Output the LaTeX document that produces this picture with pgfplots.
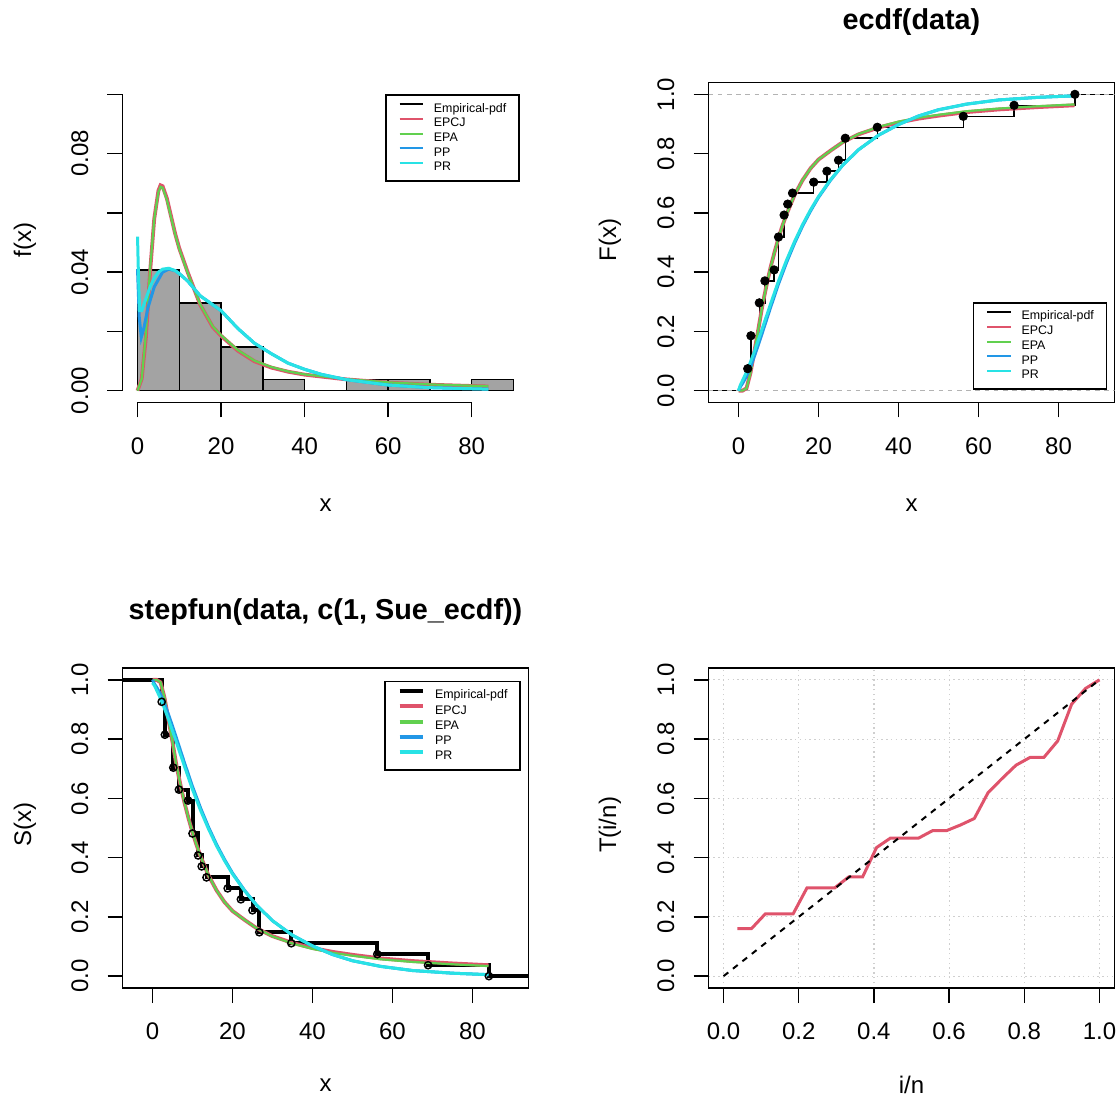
\documentclass[border=0pt]{standalone}
\usepackage{fontspec}
\setmainfont{Liberation Sans}
\usepackage{pgfplots}
\pgfplotsset{compat=1.18}

\definecolor{rred}{HTML}{DF536B}
\definecolor{rgreen}{HTML}{61D04F}
\definecolor{rblue}{HTML}{2297E6}
\definecolor{rcyan}{HTML}{28E2E5}
\definecolor{histgray}{HTML}{A3A3A3}
\definecolor{gray70}{HTML}{B3B3B3}
\definecolor{lgray}{HTML}{CFCFCF}

\pgfplotsset{
  rpanel/.style={
    scale only axis, width=203pt, height=160pt, anchor=south west,
    tick align=outside, major tick length=7.5pt,
    xtick pos=left, ytick pos=left,
    every tick/.style={black, line width=0.75pt},
    axis line style={line width=0.75pt},
    tick label style={font=\fontsize{12}{14}\selectfont},
    xticklabel shift=6.5pt, yticklabel shift=6pt,
    /pgf/number format/assume math mode=true,
    yticklabel style={rotate=90, anchor=south},
    legend cell align=left,
    legend image code/.code={\draw[##1] (0pt,2.2pt) -- (11.7pt,2.2pt);},
    legend style={font=\fontsize{6.2}{7}\selectfont, draw=black, line width=0.75pt,
      nodes={inner sep=0pt, text height=4.6pt, text depth=1.3pt},
      row sep=1.45pt, column sep=5pt, inner xsep=6.3pt, inner ysep=3.8pt},
  },
}

\begin{document}
\begin{tikzpicture}
\useasboundingbox (0,0) rectangle (560pt,549.5pt);

% density panel
\begin{axis}[rpanel, at={(61.25pt,348.25pt)},
  xmin=-3.6, xmax=93.6, ymin=-0.004, ymax=0.104,
  axis lines*=left, axis line style={draw=none}, clip=false,
  xtick={0,20,40,60,80}, xticklabels={0,20,40,60,80},
  ytick={0,0.02,0.04,0.06,0.08,0.1}, yticklabels={0.00,,0.04,,0.08,},
  legend style={at={(0.647,0.9625)}, anchor=north west}]
\addlegendimage{black, line width=1pt}\addlegendentry{Empirical-pdf}
\addlegendimage{rred, line width=1pt}\addlegendentry{EPCJ}
\addlegendimage{rgreen, line width=1pt}\addlegendentry{EPA}
\addlegendimage{rblue, line width=1pt}\addlegendentry{PP}
\addlegendimage{rcyan, line width=1pt}\addlegendentry{PR}
\addplot[ybar interval, fill=histgray, draw=black, line width=0.75pt, forget plot] coordinates {
  (0,0.04074) (10,0.02963) (20,0.01481) (30,0.0037) (40,0) (50,0.0037) (60,0.0037) (70,0) (80,0.0037) (90,0)};
\addplot[rred, line width=1.9pt, forget plot] coordinates {
  (0,0) (1,0.004) (2,0.018) (3,0.04) (4,0.058) (5,0.0675) (5.5,0.0693) (6,0.069) (7,0.065) (8,0.059)
  (9,0.053) (10,0.048) (12,0.04) (15,0.029) (18,0.0215) (20,0.0185) (24,0.0135) (28,0.0099)
  (32,0.0078) (36,0.0064) (40,0.0054) (50,0.0038) (60,0.0027) (70,0.002) (84,0.0014)};
\addplot[rgreen, line width=1.1pt, forget plot] coordinates {
  (0,0) (1,0.004) (2,0.019) (3,0.041) (4,0.058) (5,0.067) (5.5,0.0688) (6,0.0685) (7,0.0645) (8,0.0587)
  (9,0.0528) (10,0.0478) (12,0.0398) (15,0.0291) (18,0.0217) (20,0.0187) (24,0.0137) (28,0.0101)
  (32,0.008) (36,0.0065) (40,0.0055) (50,0.0039) (60,0.0028) (70,0.0021) (84,0.0015)};
\addplot[rblue, line width=1.5pt, forget plot] coordinates {
  (0,0.041) (0.4,0.025) (0.9,0.018) (1.5,0.021) (2.5,0.028) (4,0.035) (6,0.04) (7.5,0.041) (9,0.0405)
  (10,0.0395) (12,0.037) (15,0.032) (20,0.027) (24,0.021) (28,0.016) (32,0.0125) (36,0.0093)
  (40,0.0072) (44,0.0055) (50,0.0037) (60,0.0019) (70,0.001) (84,0.0005)};
\addplot[rcyan, line width=1.5pt, forget plot] coordinates {
  (0,0.052) (0.2,0.04) (0.5,0.027) (1,0.027) (2,0.031) (3,0.035) (4,0.038) (5,0.04) (6,0.041)
  (7.5,0.0413) (9,0.0405) (10,0.0395) (12,0.037) (15,0.032) (20,0.027) (24,0.021) (28,0.016)
  (32,0.0125) (36,0.0093) (40,0.0072) (44,0.0055) (50,0.0037) (60,0.0019) (70,0.001) (84,0.0005)};
\draw[line width=0.75pt] (axis cs:0,-0.004) -- (axis cs:80,-0.004);
\draw[line width=0.75pt] (axis cs:-3.6,0) -- (axis cs:-3.6,0.1);
\end{axis}

% ecdf panel
\begin{axis}[rpanel, at={(354.25pt,348.25pt)},
  xmin=-7.5, xmax=94, ymin=-0.04, ymax=1.04,
  xtick={0,20,40,60,80}, xticklabels={0,20,40,60,80},
  ytick={0,0.2,0.4,0.6,0.8,1}, yticklabels={0.0,0.2,0.4,0.6,0.8,1.0},
  legend style={at={(0.651,0.04)}, anchor=south west}]
\addlegendimage{black, line width=1pt}\addlegendentry{Empirical-pdf}
\addlegendimage{rred, line width=1pt}\addlegendentry{EPCJ}
\addlegendimage{rgreen, line width=1pt}\addlegendentry{EPA}
\addlegendimage{rblue, line width=1pt}\addlegendentry{PP}
\addlegendimage{rcyan, line width=1pt}\addlegendentry{PR}
\addplot[const plot, black, line width=0.75pt, forget plot] coordinates {
  (-7.5,0) (2.3,0.0741) (3.1,0.1852) (5.2,0.2963) (6.6,0.3704) (8.9,0.4074) (10.0,0.5185)
  (11.4,0.5926) (12.3,0.6296) (13.5,0.6667) (18.8,0.7037) (22.1,0.7407) (25.0,0.7778)
  (26.7,0.8519) (34.7,0.8889) (56.2,0.9259) (68.9,0.9630) (84.1,1) (94,1)};
\addplot[only marks, mark=*, mark size=2.1pt, black, forget plot] coordinates {
  (2.3,0.0741) (3.1,0.1852) (5.2,0.2963) (6.6,0.3704) (8.9,0.4074) (10.0,0.5185)
  (11.4,0.5926) (12.3,0.6296) (13.5,0.6667) (18.8,0.7037) (22.1,0.7407) (25.0,0.7778)
  (26.7,0.8519) (34.7,0.8889) (56.2,0.9259) (68.9,0.9630) (84.1,1)};
\addplot[gray70, line width=0.75pt, dash pattern=on 2.3pt off 2.3pt, forget plot] coordinates {(-7.5,0) (94,0)};
\addplot[gray70, line width=0.75pt, dash pattern=on 2.3pt off 2.3pt, forget plot] coordinates {(-7.5,1) (94,1)};
\addplot[rred, line width=1.9pt, forget plot] coordinates {
  (0,0) (1,0) (2,0.008) (3,0.06) (4,0.135) (5,0.21) (6,0.29) (7,0.355) (8,0.415) (9,0.467)
  (10,0.515) (11,0.557) (12,0.595) (14,0.66) (16,0.71) (18,0.75) (20,0.78) (23,0.81) (26,0.838)
  (30,0.865) (35,0.888) (40,0.905) (45,0.918) (50,0.928) (57,0.94) (65,0.949) (75,0.957) (84,0.963)};
\addplot[rgreen, line width=1.1pt, forget plot] coordinates {
  (0,0) (1,0) (2,0.008) (3,0.06) (4,0.135) (5,0.21) (6,0.29) (7,0.355) (8,0.415) (9,0.467)
  (10,0.515) (11,0.557) (12,0.595) (14,0.66) (16,0.71) (18,0.75) (20,0.78) (23,0.81) (26,0.838)
  (30,0.866) (35,0.89) (40,0.908) (45,0.921) (50,0.931) (57,0.943) (65,0.952) (75,0.96) (84,0.966)};
\addplot[rblue, line width=1.5pt, forget plot] coordinates {
  (0,0) (0.5,0.014) (1,0.024) (2,0.048) (3,0.08) (4,0.117) (5,0.156) (6,0.197) (8,0.28) (10,0.36)
  (12,0.432) (14,0.497) (16,0.555) (18,0.606) (20,0.652) (23,0.71) (26,0.76) (30,0.813) (35,0.862)
  (40,0.898) (45,0.927) (50,0.948) (57,0.967) (65,0.981) (75,0.99) (84,0.995)};
\addplot[rcyan, line width=1.5pt, forget plot] coordinates {
  (0,0) (0.5,0.02) (1,0.034) (2,0.063) (3,0.097) (4,0.133) (5,0.172) (6,0.212) (8,0.292) (10,0.37)
  (12,0.44) (14,0.503) (16,0.56) (18,0.61) (20,0.655) (23,0.712) (26,0.76) (30,0.813) (35,0.862)
  (40,0.898) (45,0.927) (50,0.948) (57,0.967) (65,0.981) (75,0.99) (84,0.995)};
\end{axis}

% survival panel
\begin{axis}[rpanel, at={(61.25pt,55.5pt)},
  xmin=-7.5, xmax=94, ymin=-0.04, ymax=1.04,
  xtick={0,20,40,60,80}, xticklabels={0,20,40,60,80},
  ytick={0,0.2,0.4,0.6,0.8,1}, yticklabels={0.0,0.2,0.4,0.6,0.8,1.0},
  legend style={at={(0.645,0.96)}, anchor=north west}]
\addlegendimage{black, line width=2pt}\addlegendentry{Empirical-pdf}
\addlegendimage{rred, line width=2pt}\addlegendentry{EPCJ}
\addlegendimage{rgreen, line width=2pt}\addlegendentry{EPA}
\addlegendimage{rblue, line width=2pt}\addlegendentry{PP}
\addlegendimage{rcyan, line width=2pt}\addlegendentry{PR}
\addplot[const plot, black, line width=2pt, forget plot] coordinates {
  (-7.5,1) (2.3,0.9259) (3.1,0.8148) (5.2,0.7037) (6.6,0.6296) (8.9,0.5926) (10.0,0.4815)
  (11.4,0.4074) (12.3,0.3704) (13.5,0.3333) (18.8,0.2963) (22.1,0.2593) (25.0,0.2222)
  (26.7,0.1481) (34.7,0.1111) (56.2,0.0741) (68.9,0.0370) (84.1,0) (94,0)};
\addplot[only marks, mark=o, mark size=1.8pt, line width=0.75pt, black, forget plot] coordinates {
  (2.3,0.9259) (3.1,0.8148) (5.2,0.7037) (6.6,0.6296) (8.9,0.5926) (10.0,0.4815)
  (11.4,0.4074) (12.3,0.3704) (13.5,0.3333) (18.8,0.2963) (22.1,0.2593) (25.0,0.2222)
  (26.7,0.1481) (34.7,0.1111) (56.2,0.0741) (68.9,0.0370) (84.1,0)};
\addplot[rred, line width=1.9pt, forget plot] coordinates {
  (0,1) (1,1) (2,0.992) (3,0.94) (4,0.865) (5,0.79) (6,0.71) (7,0.645) (8,0.585) (9,0.533)
  (10,0.485) (11,0.443) (12,0.405) (14,0.34) (16,0.29) (18,0.25) (20,0.22) (23,0.19) (26,0.162)
  (30,0.135) (35,0.112) (40,0.095) (45,0.082) (50,0.072) (57,0.06) (65,0.051) (75,0.043) (84,0.037)};
\addplot[rgreen, line width=1.1pt, forget plot] coordinates {
  (0,1) (1,1) (2,0.992) (3,0.94) (4,0.865) (5,0.79) (6,0.71) (7,0.645) (8,0.585) (9,0.533)
  (10,0.485) (11,0.443) (12,0.405) (14,0.34) (16,0.29) (18,0.25) (20,0.22) (23,0.19) (26,0.162)
  (30,0.134) (35,0.11) (40,0.092) (45,0.079) (50,0.069) (57,0.057) (65,0.048) (75,0.04) (84,0.034)};
\addplot[rblue, line width=1.5pt, forget plot] coordinates {
  (0,1) (0.5,0.986) (1,0.976) (2,0.952) (3,0.92) (4,0.883) (5,0.844) (6,0.803) (8,0.72) (10,0.64)
  (12,0.568) (14,0.503) (16,0.445) (18,0.394) (20,0.348) (23,0.29) (26,0.24) (30,0.187) (35,0.138)
  (40,0.102) (45,0.073) (50,0.052) (57,0.033) (65,0.019) (75,0.01) (84,0.005)};
\addplot[rcyan, line width=1.5pt, forget plot] coordinates {
  (0,0.99) (0.5,0.98) (1,0.966) (2,0.937) (3,0.903) (4,0.867) (5,0.828) (6,0.788) (8,0.708) (10,0.63)
  (12,0.56) (14,0.497) (16,0.44) (18,0.39) (20,0.345) (23,0.288) (26,0.24) (30,0.187) (35,0.138)
  (40,0.102) (45,0.073) (50,0.052) (57,0.033) (65,0.019) (75,0.01) (84,0.005)};
\end{axis}

% T(i/n) panel
\begin{axis}[rpanel, at={(354.25pt,55.5pt)},
  xmin=-0.04, xmax=1.04, ymin=-0.04, ymax=1.04,
  xtick={0,0.2,0.4,0.6,0.8,1}, xticklabels={0.0,0.2,0.4,0.6,0.8,1.0},
  ytick={0,0.2,0.4,0.6,0.8,1}, yticklabels={0.0,0.2,0.4,0.6,0.8,1.0},
  grid=major, grid style={lgray, line width=0.6pt, dash pattern=on 0.7pt off 1.7pt}]
\addplot[rred, line width=1.5pt] coordinates {
  (0.037,0.16) (0.074,0.16) (0.111,0.21) (0.148,0.21) (0.185,0.21) (0.222,0.298) (0.259,0.298)
  (0.296,0.298) (0.333,0.335) (0.370,0.335) (0.407,0.434) (0.444,0.466) (0.481,0.466) (0.519,0.466)
  (0.556,0.491) (0.593,0.491) (0.630,0.51) (0.667,0.532) (0.704,0.62) (0.741,0.667) (0.778,0.712)
  (0.815,0.738) (0.852,0.738) (0.889,0.794) (0.926,0.918) (0.963,0.971) (1,1)};
\addplot[black, line width=1pt, dash pattern=on 3pt off 3pt] coordinates {(0,0) (1,1)};
\end{axis}

% titles and axis labels
\node[font=\bfseries\fontsize{14.4}{17}\selectfont] at (455.75pt,538.5pt) {ecdf(data)};
\node[font=\bfseries\fontsize{14.4}{17}\selectfont] at (162.75pt,243.5pt) {stepfun(data, c(1, Sue\_ecdf))};
\node[font=\fontsize{12}{14}\selectfont, rotate=90] at (12.5pt,429.5pt) {f(x)};
\node[font=\fontsize{12}{14}\selectfont, rotate=90] at (305pt,429.5pt) {F(x)};
\node[font=\fontsize{12}{14}\selectfont, rotate=90] at (12.5pt,137pt) {S(x)};
\node[font=\fontsize{12}{14}\selectfont, rotate=90] at (305pt,137pt) {T(i/n)};
\node[font=\fontsize{12}{14}\selectfont] at (162.75pt,297pt) {x};
\node[font=\fontsize{12}{14}\selectfont] at (455.75pt,297pt) {x};
\node[font=\fontsize{12}{14}\selectfont] at (162.75pt,7pt) {x};
\node[font=\fontsize{12}{14}\selectfont] at (455.75pt,7pt) {i/n};
\end{tikzpicture}
\end{document}
